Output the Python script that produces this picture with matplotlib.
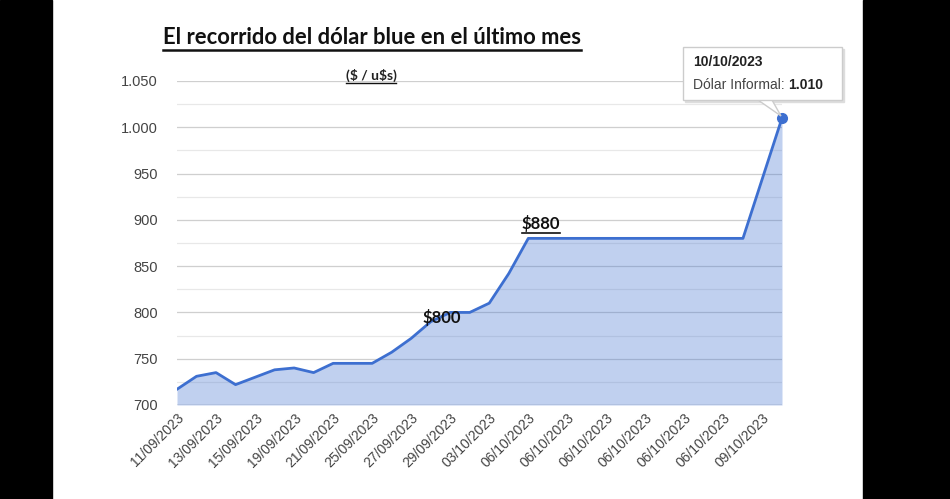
import matplotlib
matplotlib.use("Agg")
import matplotlib.pyplot as plt
from matplotlib.ticker import FuncFormatter, MultipleLocator
from matplotlib.patches import Rectangle, Polygon
from matplotlib.lines import Line2D

fechas = ["11/09/2023", "12/09/2023", "13/09/2023", "14/09/2023", "15/09/2023",
          "18/09/2023", "19/09/2023", "20/09/2023", "21/09/2023", "22/09/2023",
          "25/09/2023", "26/09/2023", "27/09/2023", "28/09/2023", "29/09/2023",
          "02/10/2023", "03/10/2023", "05/10/2023", "06/10/2023", "06/10/2023",
          "06/10/2023", "06/10/2023", "06/10/2023", "06/10/2023", "06/10/2023",
          "06/10/2023", "06/10/2023", "06/10/2023", "06/10/2023", "06/10/2023",
          "09/10/2023", "10/10/2023"]
dolar_blue = [717, 731, 735, 722, 730, 738, 740, 735, 745, 745,
              745, 757, 772, 790, 800, 800, 810, 842, 880, 880,
              880, 880, 880, 880, 880, 880, 880, 880, 880, 880,
              945, 1010]
etiquetas = [(14, r"\$800"), (18, r"\$880")]

linea = "#3d6fd0"
W, H = 950, 499

fig = plt.figure(figsize=(9.5, 4.99), dpi=100)
fig.patch.set_facecolor("white")
# bordes negros de la captura
fig.patches.append(Rectangle((0, 0), 52 / W, 1, transform=fig.transFigure, color="black", zorder=0))
fig.patches.append(Rectangle((863 / W, 0), 1 - 863 / W, 1, transform=fig.transFigure, color="black", zorder=0))

ax = fig.add_axes([177 / W, 1 - 405 / H, 605 / W, 324 / H])
x = list(range(len(dolar_blue)))
ax.fill_between(x, 700, dolar_blue, color=linea, alpha=0.32, lw=0, zorder=3)
ax.plot(x, dolar_blue, color=linea, lw=2, zorder=4)
ax.plot(x[-1], dolar_blue[-1], "o", color=linea, ms=7, zorder=5, clip_on=False)

ax.set_xlim(0, len(dolar_blue) - 1)
ax.set_ylim(700, 1050)
ax.yaxis.set_major_locator(MultipleLocator(50))
ax.yaxis.set_minor_locator(MultipleLocator(25))
ax.yaxis.set_major_formatter(FuncFormatter(lambda v, p: f"{int(v):,}".replace(",", ".")))
ax.grid(axis="y", which="major", color="#cfcfcf", lw=0.9, zorder=1)
ax.grid(axis="y", which="minor", color="#e8e8e8", lw=0.9, zorder=1)
ax.axhline(700, color="#b0b0b0", lw=1, zorder=2)
for s in ax.spines.values():
    s.set_visible(False)

ax.set_xticks(x[::2])
ax.set_xticklabels(fechas[::2], rotation=45, ha="right", rotation_mode="anchor",
                   fontsize=10, color="#444444", family="Liberation Sans")
ax.tick_params(axis="both", which="both", length=0)
ax.tick_params(axis="x", pad=4)
ax.tick_params(axis="y", pad=14)
for t in ax.get_yticklabels():
    t.set_fontsize(10.5)
    t.set_color("#444444")
    t.set_family("Liberation Sans")

# etiquetas $800 y $880
lbl = []
for (i, txt), dx, dy in zip(etiquetas, [-6, 9], [-4, 11]):
    t = ax.annotate(txt, (i, dolar_blue[i]), xytext=(dx, dy),
                    textcoords="offset points", ha="center", va="center",
                    fontsize=12, fontweight="bold", family="Lato", color="#111111", zorder=6)
    lbl.append(t)

title = fig.text(372 / W, 1 - 38 / H, "El recorrido del dólar blue en el último mes",
                 ha="center", va="center", fontsize=15.8, fontweight="bold", family="Lato", color="#111111")
sub = fig.text(371 / W, 1 - 75 / H, r"(\$ / u\$s)", ha="center", va="center",
               fontsize=10, fontweight="bold", family="Lato", color="#222222")

# tooltip
fig.patches.append(Rectangle((685 / W, 1 - 102 / H), 159 / W, 53 / H, transform=fig.transFigure,
                             color="#dddddd", zorder=6))
fig.patches.append(Rectangle((683 / W, 1 - 100 / H), 159 / W, 53 / H, transform=fig.transFigure,
                             facecolor="white", edgecolor="#cccccc", lw=1, zorder=7))
fig.patches.append(Polygon([(758 / W, 1 - 100 / H), (772 / W, 1 - 100 / H), (781 / W, 1 - 116 / H)],
                           closed=True, transform=fig.transFigure, facecolor="white",
                           edgecolor="#cccccc", lw=1, zorder=6))
fig.text(693 / W, 1 - 62 / H, "10/10/2023", ha="left", va="center", fontsize=10,
         fontweight="bold", family="Liberation Sans", color="#222222", zorder=8)
t1 = fig.text(693 / W, 1 - 85 / H, "Dólar Informal: ", ha="left", va="center", fontsize=10,
              family="Liberation Sans", color="#444444", zorder=8)

fig.canvas.draw()
r = fig.canvas.get_renderer()
bb = t1.get_window_extent(r)
fig.text(bb.x1 / W, 1 - 85 / H, "1.010", ha="left", va="center", fontsize=10,
         fontweight="bold", family="Liberation Sans", color="#222222", zorder=8)

# subrayados
for t, lw in [(title, 1.8), (sub, 1), (lbl[1], 1.2)]:
    b = t.get_window_extent(r)
    yy = b.y0 - 1
    fig.add_artist(Line2D([b.x0 / W, b.x1 / W], [yy / H, yy / H], color="#111111", lw=lw))

plt.savefig("out.png", dpi=100)
